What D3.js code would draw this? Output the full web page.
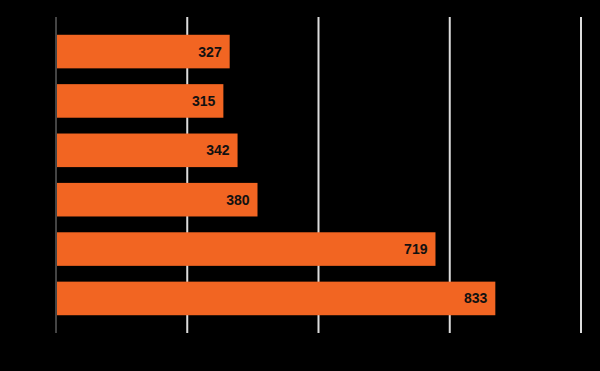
<!DOCTYPE html>
<html lang='en'>
<head>
  <meta charset='utf-8'>
  <script src="https://d3js.org/d3.v7.min.js"></script>
  <style>
    body { margin: 0; background: #000; }
  </style>
</head>
<body>
  <div id="my_dataviz"></div>
  <script>
    // data
    const categories = ["Row 1", "Row 2", "Row 3", "Row 4", "Row 5", "Row 6"];
    const values = [327, 315, 342, 380, 719, 833];
    const xTicks = [0, 250, 500, 750, 1000];

    const width = 600, height = 371;
    const margin = {top: 17, right: 19, bottom: 38, left: 56};

    const svg = d3.select("#my_dataviz")
      .append("svg")
      .attr("width", width)
      .attr("height", height)
      .style("background", "#000");

    const x = d3.scaleLinear()
      .domain([0, 1000])
      .range([margin.left, width - margin.right]);

    const y = d3.scaleBand()
      .domain(categories)
      .range([margin.top, height - margin.bottom])
      .paddingInner(0.32)
      .paddingOuter(0.36);

    // gridlines
    svg.append("g")
      .selectAll("line")
      .data(xTicks.slice(1))
      .join("line")
        .attr("x1", d => x(d))
        .attr("x2", d => x(d))
        .attr("y1", margin.top)
        .attr("y2", height - margin.bottom)
        .attr("stroke", "#dcdcdc")
        .attr("stroke-width", 2);

    // bars (start just right of the baseline)
    svg.append("g")
      .selectAll("rect")
      .data(values)
      .join("rect")
        .attr("x", x(0) + 1)
        .attr("y", (d, i) => y(categories[i]))
        .attr("width", d => x(d) - x(0) + 1)
        .attr("height", y.bandwidth())
        .attr("fill", "#f26522");

    // baseline
    svg.append("line")
      .attr("x1", x(0))
      .attr("x2", x(0))
      .attr("y1", margin.top)
      .attr("y2", height - margin.bottom)
      .attr("stroke", "#444")
      .attr("stroke-width", 2);

    // value labels
    svg.append("g")
      .selectAll("text")
      .data(values)
      .join("text")
        .attr("x", d => x(d) - 6)
        .attr("y", (d, i) => y(categories[i]) + y.bandwidth() / 2)
        .attr("dy", "0.36em")
        .attr("text-anchor", "end")
        .style("font-family", "'Liberation Sans', Arial, sans-serif")
        .style("font-weight", "bold")
        .style("font-size", "14px")
        .style("fill", "#111")
        .text(d => d);
  </script>
</body>
</html>
